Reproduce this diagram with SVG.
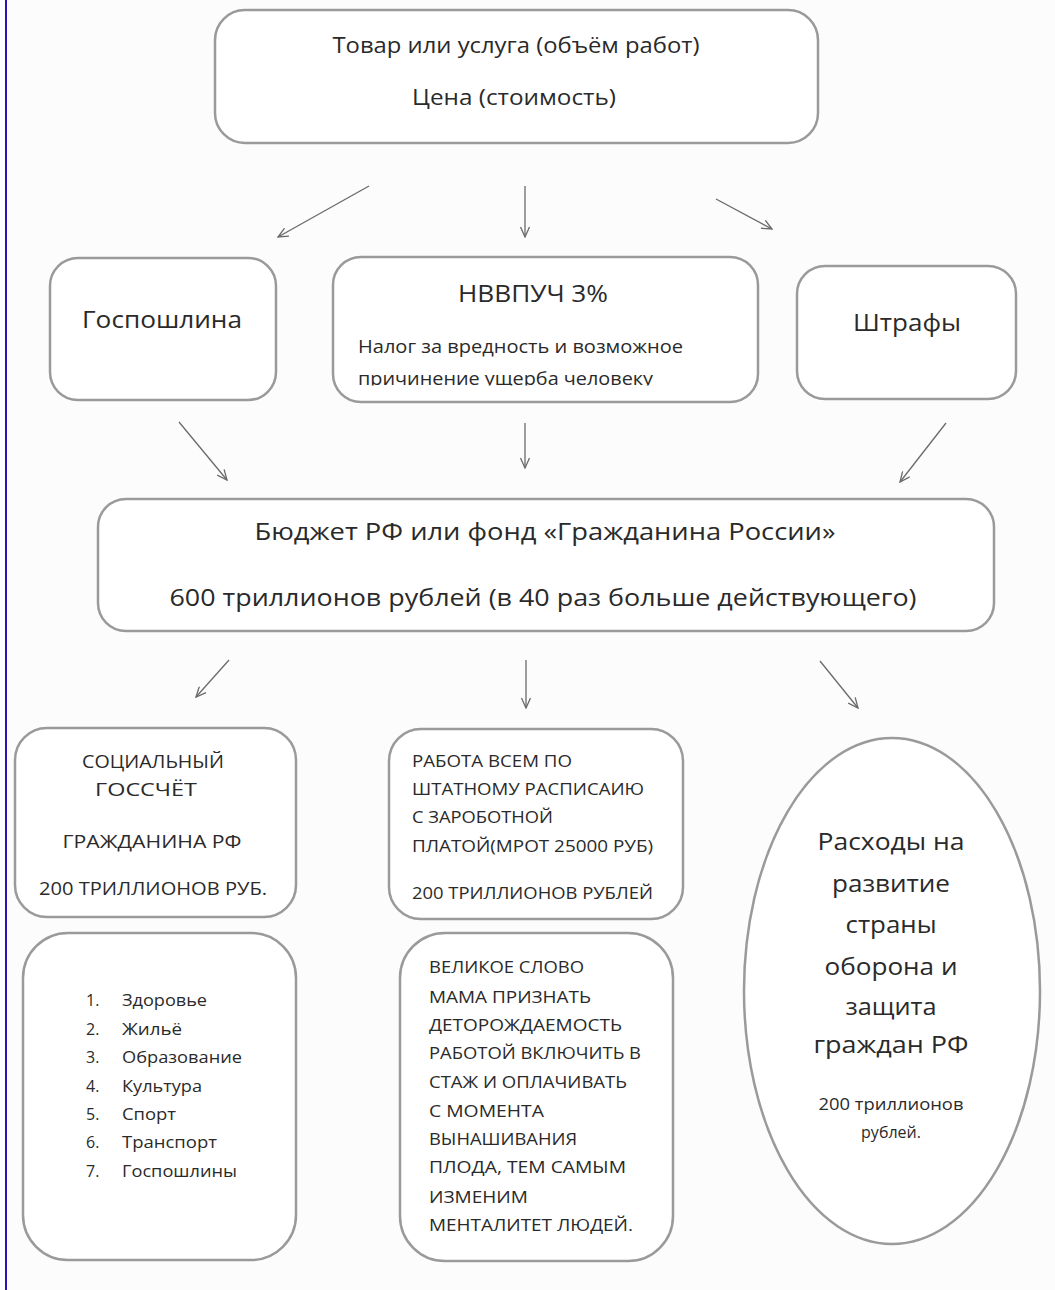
<svg xmlns="http://www.w3.org/2000/svg" width="1055" height="1290" viewBox="0 0 1055 1290">
<style>
.box{fill:#ffffff;stroke:#9a9a9a;stroke-width:2.5}
.t{font-family:"Open Sans","Noto Sans","DejaVu Sans",sans-serif;fill:#2a2a2a}
.c{text-anchor:middle}
.arr{stroke:#6a6a6a;stroke-width:1.3;fill:none;marker-end:url(#ah)}
</style>
<defs>
<marker id="ah" viewBox="0 0 12 10" refX="11" refY="5" markerWidth="12" markerHeight="10" markerUnits="userSpaceOnUse" orient="auto">
<path d="M1,0.5 L11,5 L1,9.5" fill="none" stroke="#6a6a6a" stroke-width="1.3"/>
</marker>
<clipPath id="clipN"><rect x="333" y="360" width="425" height="25.5"/></clipPath>
</defs>
<rect x="0" y="0" width="1055" height="1290" fill="#fcfcfc"/>
<line x1="6" y1="0" x2="6" y2="1290" stroke="#3010b0" stroke-width="2"/>

<g id="connectors">
<line class="arr" x1="369" y1="186" x2="278" y2="237"/>
<line class="arr" x1="525" y1="186" x2="525" y2="237"/>
<line class="arr" x1="716" y1="199" x2="772" y2="229"/>
<line class="arr" x1="179" y1="422" x2="227" y2="480"/>
<line class="arr" x1="525" y1="423" x2="525" y2="468"/>
<line class="arr" x1="946" y1="423" x2="900" y2="482"/>
<line class="arr" x1="229" y1="660" x2="196" y2="697"/>
<line class="arr" x1="526" y1="660" x2="526" y2="708"/>
<line class="arr" x1="820" y1="661" x2="858" y2="708"/>
</g>

<g id="node-product">
<rect class="box" x="215" y="10" width="603" height="133" rx="30"/>
<text class="t c" x="516" y="53" font-size="21" textLength="367" lengthAdjust="spacingAndGlyphs">Товар или услуга (объём работ)</text>
<text class="t c" x="514" y="105" font-size="21" textLength="204" lengthAdjust="spacingAndGlyphs">Цена (стоимость)</text>
</g>

<g id="node-gosposhlina">
<rect class="box" x="50" y="258" width="226" height="142" rx="28"/>
<text class="t c" x="162" y="328" font-size="24" textLength="160" lengthAdjust="spacingAndGlyphs">Госпошлина</text>
</g>

<g id="node-nvvpuch">
<rect class="box" x="333" y="257" width="425" height="145" rx="28"/>
<text class="t c" x="533" y="302" font-size="24" textLength="150" lengthAdjust="spacingAndGlyphs">НВВПУЧ 3%</text>
<text class="t" x="358" y="353" font-size="18" textLength="325" lengthAdjust="spacingAndGlyphs">Налог за вредность и возможное</text>
<g clip-path="url(#clipN)">
<text class="t" x="358" y="385" font-size="18" textLength="295" lengthAdjust="spacingAndGlyphs">причинение ущерба человеку</text>
</g>
</g>

<g id="node-shtrafy">
<rect class="box" x="797" y="266" width="219" height="133" rx="28"/>
<text class="t c" x="907" y="331" font-size="24" textLength="108" lengthAdjust="spacingAndGlyphs">Штрафы</text>
</g>

<g id="node-budget">
<rect class="box" x="98" y="499" width="896" height="132" rx="28"/>
<text class="t c" x="545" y="540" font-size="24" textLength="581" lengthAdjust="spacingAndGlyphs">Бюджет РФ или фонд «Гражданина России»</text>
<text class="t c" x="543" y="606" font-size="24" textLength="747" lengthAdjust="spacingAndGlyphs">600 триллионов рублей (в 40 раз больше действующего)</text>
</g>

<g id="node-social">
<rect class="box" x="15" y="728" width="281" height="189" rx="32"/>
<text class="t c" x="153" y="768" font-size="18" textLength="142" lengthAdjust="spacingAndGlyphs">СОЦИАЛЬНЫЙ</text>
<text class="t c" x="146" y="796" font-size="18" textLength="102" lengthAdjust="spacingAndGlyphs">ГОССЧЁТ</text>
<text class="t c" x="152" y="848" font-size="18" textLength="179" lengthAdjust="spacingAndGlyphs">ГРАЖДАНИНА РФ</text>
<text class="t c" x="153" y="895" font-size="18" textLength="228" lengthAdjust="spacingAndGlyphs">200 ТРИЛЛИОНОВ РУБ.</text>
</g>

<g id="node-work">
<rect class="box" x="389" y="729" width="294" height="190" rx="32"/>
<text class="t" x="412" y="767" font-size="17" textLength="160" lengthAdjust="spacingAndGlyphs">РАБОТА ВСЕМ ПО</text>
<text class="t" x="412" y="795" font-size="17" textLength="232" lengthAdjust="spacingAndGlyphs">ШТАТНОМУ РАСПИСАИЮ</text>
<text class="t" x="412" y="823" font-size="17" textLength="141" lengthAdjust="spacingAndGlyphs">С ЗАРОБОТНОЙ</text>
<text class="t" x="412" y="852" font-size="17" textLength="241" lengthAdjust="spacingAndGlyphs">ПЛАТОЙ(МРОТ 25000 РУБ)</text>
<text class="t" x="412" y="899" font-size="17" textLength="241" lengthAdjust="spacingAndGlyphs">200 ТРИЛЛИОНОВ РУБЛЕЙ</text>
</g>

<g id="node-list">
<rect class="box" x="23" y="933" width="273" height="327" rx="45"/>
<g class="t" font-size="16">
<text x="86" y="1006">1.</text><text x="122" y="1006" textLength="85" lengthAdjust="spacingAndGlyphs">Здоровье</text>
<text x="86" y="1035">2.</text><text x="122" y="1035" textLength="60" lengthAdjust="spacingAndGlyphs">Жильё</text>
<text x="86" y="1063">3.</text><text x="122" y="1063" textLength="120" lengthAdjust="spacingAndGlyphs">Образование</text>
<text x="86" y="1092">4.</text><text x="122" y="1092" textLength="80" lengthAdjust="spacingAndGlyphs">Культура</text>
<text x="86" y="1120">5.</text><text x="122" y="1120" textLength="54" lengthAdjust="spacingAndGlyphs">Спорт</text>
<text x="86" y="1148">6.</text><text x="122" y="1148" textLength="95" lengthAdjust="spacingAndGlyphs">Транспорт</text>
<text x="86" y="1177">7.</text><text x="122" y="1177" textLength="115" lengthAdjust="spacingAndGlyphs">Госпошлины</text>
</g>
</g>

<g id="node-mama">
<rect class="box" x="400" y="933" width="273" height="328" rx="45"/>
<g class="t" font-size="17">
<text x="429" y="973" textLength="155" lengthAdjust="spacingAndGlyphs">ВЕЛИКОЕ СЛОВО</text>
<text x="429" y="1003" textLength="162" lengthAdjust="spacingAndGlyphs">МАМА ПРИЗНАТЬ</text>
<text x="429" y="1031" textLength="193" lengthAdjust="spacingAndGlyphs">ДЕТОРОЖДАЕМОСТЬ</text>
<text x="429" y="1059" textLength="212" lengthAdjust="spacingAndGlyphs">РАБОТОЙ ВКЛЮЧИТЬ В</text>
<text x="429" y="1088" textLength="198" lengthAdjust="spacingAndGlyphs">СТАЖ И ОПЛАЧИВАТЬ</text>
<text x="429" y="1117" textLength="115" lengthAdjust="spacingAndGlyphs">С МОМЕНТА</text>
<text x="429" y="1145" textLength="148" lengthAdjust="spacingAndGlyphs">ВЫНАШИВАНИЯ</text>
<text x="429" y="1173" textLength="197" lengthAdjust="spacingAndGlyphs">ПЛОДА, ТЕМ САМЫМ</text>
<text x="429" y="1203" textLength="99" lengthAdjust="spacingAndGlyphs">ИЗМЕНИМ</text>
<text x="429" y="1231" textLength="204" lengthAdjust="spacingAndGlyphs">МЕНТАЛИТЕТ ЛЮДЕЙ.</text>
</g>
</g>

<g id="node-expenses">
<ellipse class="box" cx="892" cy="991" rx="148" ry="253"/>
<g class="t c" font-size="24">
<text x="891" y="850" textLength="147" lengthAdjust="spacingAndGlyphs">Расходы на</text>
<text x="891" y="892" textLength="118" lengthAdjust="spacingAndGlyphs">развитие</text>
<text x="891" y="933" textLength="91" lengthAdjust="spacingAndGlyphs">страны</text>
<text x="891" y="975" textLength="133" lengthAdjust="spacingAndGlyphs">оборона и</text>
<text x="891" y="1015" textLength="91" lengthAdjust="spacingAndGlyphs">защита</text>
<text x="891" y="1053" textLength="155" lengthAdjust="spacingAndGlyphs">граждан РФ</text>
</g>
<g class="t c" font-size="16">
<text x="891" y="1110" textLength="145" lengthAdjust="spacingAndGlyphs">200 триллионов</text>
<text x="891" y="1138">рублей.</text>
</g>
</g>
</svg>
